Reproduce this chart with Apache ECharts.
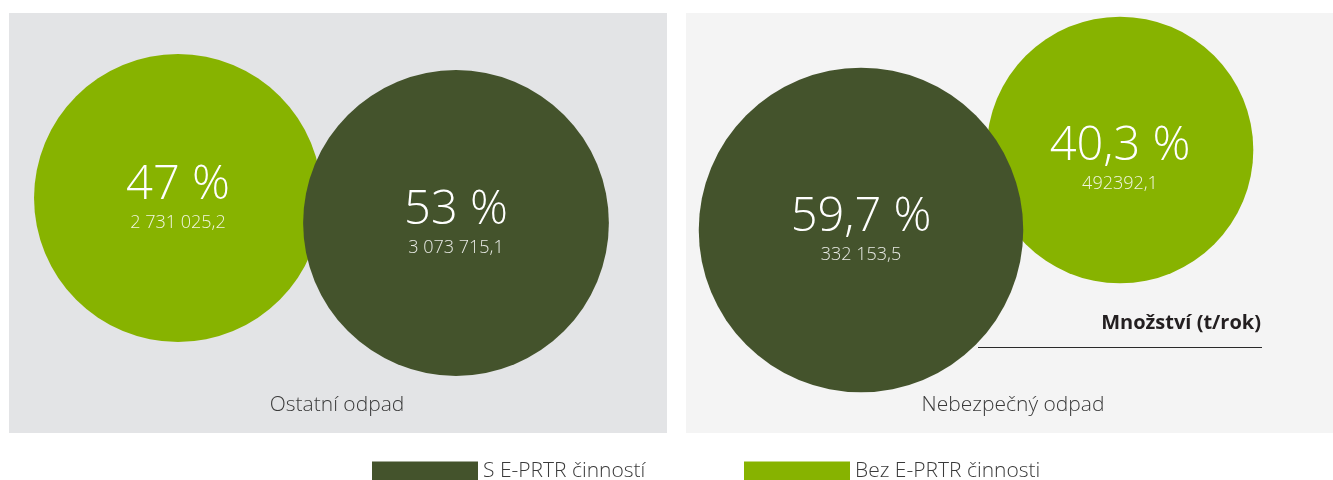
<!DOCTYPE html>
<html>
<head>
<meta charset="utf-8">
<script src="https://cdn.jsdelivr.net/npm/echarts@6/dist/echarts.min.js"></script>
<style>
  html, body { margin: 0; padding: 0; background: #fff; }
  #main { width: 1333px; height: 480px; }
</style>
</head>
<body>
<div id="main"></div>
<script>
// data
const panels = ['Ostatní odpad', 'Nebezpečný odpad']
const seriesNames = ['S E-PRTR činností', 'Bez E-PRTR činnosti']
const withPct = [53, 59.7]
const withoutPct = [47, 40.3]
const withAmount = ['3 073 715,1', '332 153,5']
const withoutAmount = ['2 731 025,2', '492392,1']
const unitLabel = 'Množství (t/rok)'

const DARK = '#44532c'
const LIGHT = '#87b300'
const FONT = '"Open Sans", sans-serif'

const pctText = v => String(v).replace('.', ',') + ' %'
const bubbleSize = v => 2 * 21 * Math.sqrt(v[2])

const bubbleLabel = {
  show: true,
  position: 'inside',
  fontFamily: FONT,
  color: '#fff',
  rich: {
    p: { fontSize: 47, lineHeight: 50, fontWeight: 300, color: '#fff', fontFamily: FONT },
    v: { fontSize: 18, lineHeight: 24, fontWeight: 300, color: 'rgba(255,255,255,0.88)', fontFamily: FONT }
  }
}

// panel 0: light bubble on the left, panel 1: dark bubble on the left
const layout = [
  { grid: { left: 39, width: 556, top: 13, height: 420 }, order: ['without', 'with'], dy: { without: -25, with: 0 }, ly: { without: 0, with: 0 } },
  { grid: { left: 731.5, width: 518, top: 13, height: 420 }, order: ['with', 'without'], dy: { without: -73, with: 7 }, ly: { without: 9, with: 0 } }
]

const grids = [], xAxes = [], yAxes = [], series = []
layout.forEach((L, i) => {
  grids.push(L.grid)
  xAxes.push({ type: 'category', gridIndex: i, data: L.order, boundaryGap: true, show: false })
  yAxes.push({ type: 'value', gridIndex: i, min: -1, max: 1, show: false })
  ;['with', 'without'].forEach(k => {
    const pct = k === 'with' ? withPct[i] : withoutPct[i]
    const amt = k === 'with' ? withAmount[i] : withoutAmount[i]
    series.push({
      type: 'scatter',
      name: k === 'with' ? seriesNames[0] : seriesNames[1],
      xAxisIndex: i,
      yAxisIndex: i,
      symbolSize: bubbleSize,
      itemStyle: { color: k === 'with' ? DARK : LIGHT, opacity: 1 },
      z: k === 'with' ? 3 : 2,
      label: bubbleLabel,
      emphasis: { disabled: true },
      data: [{
        value: [L.order.indexOf(k), 0, pct],
        symbolOffset: [0, L.dy[k]],
        label: {
          offset: [0, L.ly[k]],
          formatter: '{p|' + pctText(pct) + '}\n{v|' + amt + '}'
        }
      }]
    })
  })
})

const legendText = { fontFamily: FONT, fontSize: 21, fontWeight: 300, color: '#3a3a3a' }

const chart = echarts.init(document.getElementById('main'))
chart.setOption({
  animation: false,
  backgroundColor: '#fff',
  grid: grids,
  xAxis: xAxes,
  yAxis: yAxes,
  legend: [
    { left: 372, top: 461, padding: 0, itemWidth: 106, itemHeight: 20, icon: 'rect', data: [seriesNames[0]], textStyle: legendText },
    { left: 744, top: 461, padding: 0, itemWidth: 106, itemHeight: 20, icon: 'rect', data: [seriesNames[1]], textStyle: legendText }
  ],
  graphic: [
    { type: 'rect', z: 0, shape: { x: 9, y: 13, width: 658, height: 420 }, style: { fill: '#e3e4e6' } },
    { type: 'rect', z: 0, shape: { x: 686, y: 13, width: 647, height: 420 }, style: { fill: '#f4f4f4' } },
    { type: 'line', z: 1, shape: { x1: 978, y1: 347.5, x2: 1262, y2: 347.5 }, style: { stroke: '#2a2a2a', lineWidth: 1 } },
    { type: 'text', z: 5, x: 1261, y: 323, style: { text: unitLabel, align: 'right', verticalAlign: 'middle', font: 'bold 20px ' + FONT, fill: '#231f20' } },
    { type: 'text', z: 5, x: 337, y: 405, style: { text: panels[0], align: 'center', verticalAlign: 'middle', font: '300 21px ' + FONT, fill: '#3a3a3a' } },
    { type: 'text', z: 5, x: 1013, y: 405, style: { text: panels[1], align: 'center', verticalAlign: 'middle', font: '300 21px ' + FONT, fill: '#3a3a3a' } }
  ],
  series: series
})
</script>
</body>
</html>
